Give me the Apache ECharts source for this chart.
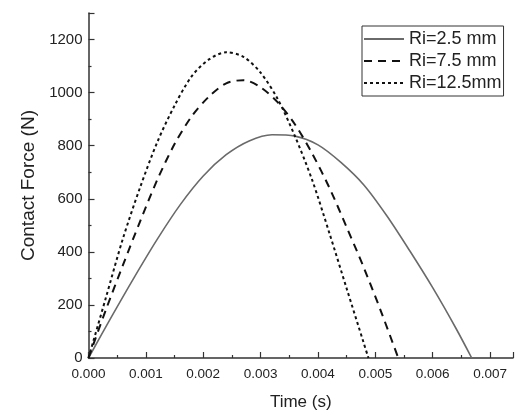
<!DOCTYPE html>
<html>
<head>
<meta charset="utf-8">
<script src="https://cdn.jsdelivr.net/npm/echarts@6/dist/echarts.min.js"></script>
<style>html,body{margin:0;padding:0;background:#fff;}#c{width:516px;height:416px;}</style>
</head>
<body>
<div id="c"></div>
<script>
const seriesNames = ['Ri=2.5 mm', 'Ri=7.5 mm', 'Ri=12.5mm'];
const tSolid = [0, 0.0004, 0.0008, 0.0012, 0.0016, 0.002, 0.0024, 0.0028, 0.0032, 0.0036, 0.004, 0.0044, 0.0048, 0.0052, 0.0056, 0.006, 0.0064, 0.00668];
const fSolid = [0, 155, 305, 448, 578, 686, 766, 818, 841, 836, 803, 737, 652, 536, 404, 265, 114, 0];
const tDash = [0, 0.0003, 0.0006, 0.0009, 0.0012, 0.0015, 0.0018, 0.0021, 0.0024, 0.0027, 0.003, 0.0033, 0.0036, 0.0039, 0.0042, 0.0045, 0.0048, 0.0051, 0.0054];
const fDash = [0, 180, 350, 515, 672, 806, 911, 985, 1035, 1047, 1020, 963, 880, 770, 641, 493, 340, 175, 0];
const tDot = [0, 0.0003, 0.0006, 0.0009, 0.0012, 0.0015, 0.0018, 0.0021, 0.0024, 0.0027, 0.003, 0.0033, 0.0036, 0.0039, 0.0042, 0.0045, 0.0048, 0.00488];
const fDot = [0, 225, 450, 643, 814, 951, 1062, 1125, 1152, 1135, 1075, 975, 835, 670, 470, 262, 55, 0];

const zip = (a, b) => a.map((v, i) => [v, b[i]]);
const font = 'Liberation Sans, Arial, sans-serif';
const chart = echarts.init(document.getElementById('c'));
chart.setOption({
  animation: false,
  backgroundColor: '#fff',
  grid: { left: 88.5, right: 3, top: 13, bottom: 57 },
  legend: {
    orient: 'vertical', left: 362, top: 26,
    data: seriesNames,
    itemWidth: 40, itemHeight: 14, itemGap: 4,
    itemStyle: { opacity: 0 },
    borderColor: '#333', borderWidth: 1, padding: [4, 2, 4, 1],
    textStyle: { fontFamily: font, fontSize: 18, lineHeight: 18, color: '#222' }
  },
  xAxis: {
    type: 'value', min: 0, max: 0.0074, interval: 0.001,
    name: 'Time (s)', nameLocation: 'middle', nameGap: 36,
    nameTextStyle: { fontFamily: font, fontSize: 17, color: '#222' },
    axisLine: { lineStyle: { color: '#333', width: 1.5 } },
    axisTick: { inside: true, length: 6, lineStyle: { color: '#333', width: 1.2 } },
    minorTick: { show: true, splitNumber: 2, length: 3, lineStyle: { color: '#333', width: 1.2 } },
    splitLine: { show: false },
    axisLabel: {
      fontFamily: font, fontSize: 13.5, color: '#222', margin: 9,
      formatter: v => Math.abs(v / 0.001 - Math.round(v / 0.001)) < 1e-6 ? v.toFixed(3) : ''
    }
  },
  yAxis: {
    type: 'value', min: 0, max: 1300, interval: 200,
    name: 'Contact Force (N)', nameLocation: 'middle', nameGap: 50,
    nameTextStyle: { fontFamily: font, fontSize: 19, color: '#222' },
    axisLine: { show: true, lineStyle: { color: '#333', width: 1.5 } },
    axisTick: { show: true, inside: true, length: 6, lineStyle: { color: '#333', width: 1.2 } },
    minorTick: { show: true, splitNumber: 2, length: 3, lineStyle: { color: '#333', width: 1.2 } },
    splitLine: { show: false },
    axisLabel: {
      fontFamily: font, fontSize: 15, color: '#222', margin: 6,
      formatter: v => (v % 200 === 0 ? String(v) : '')
    }
  },
  series: [
    { name: seriesNames[0], type: 'line', data: zip(tSolid, fSolid), smooth: 0.3, symbol: 'none',
      lineStyle: { color: '#6a6a6a', width: 1.6, type: 'solid' }, itemStyle: { color: '#6a6a6a' } },
    { name: seriesNames[1], type: 'line', data: zip(tDash, fDash), smooth: 0.3, symbol: 'none',
      lineStyle: { color: '#111', width: 2, type: [8, 6] }, itemStyle: { color: '#111' } },
    { name: seriesNames[2], type: 'line', data: zip(tDot, fDot), smooth: 0.3, symbol: 'none',
      lineStyle: { color: '#111', width: 2, type: [3, 3] }, itemStyle: { color: '#111' } }
  ]
});
</script>
</body>
</html>
